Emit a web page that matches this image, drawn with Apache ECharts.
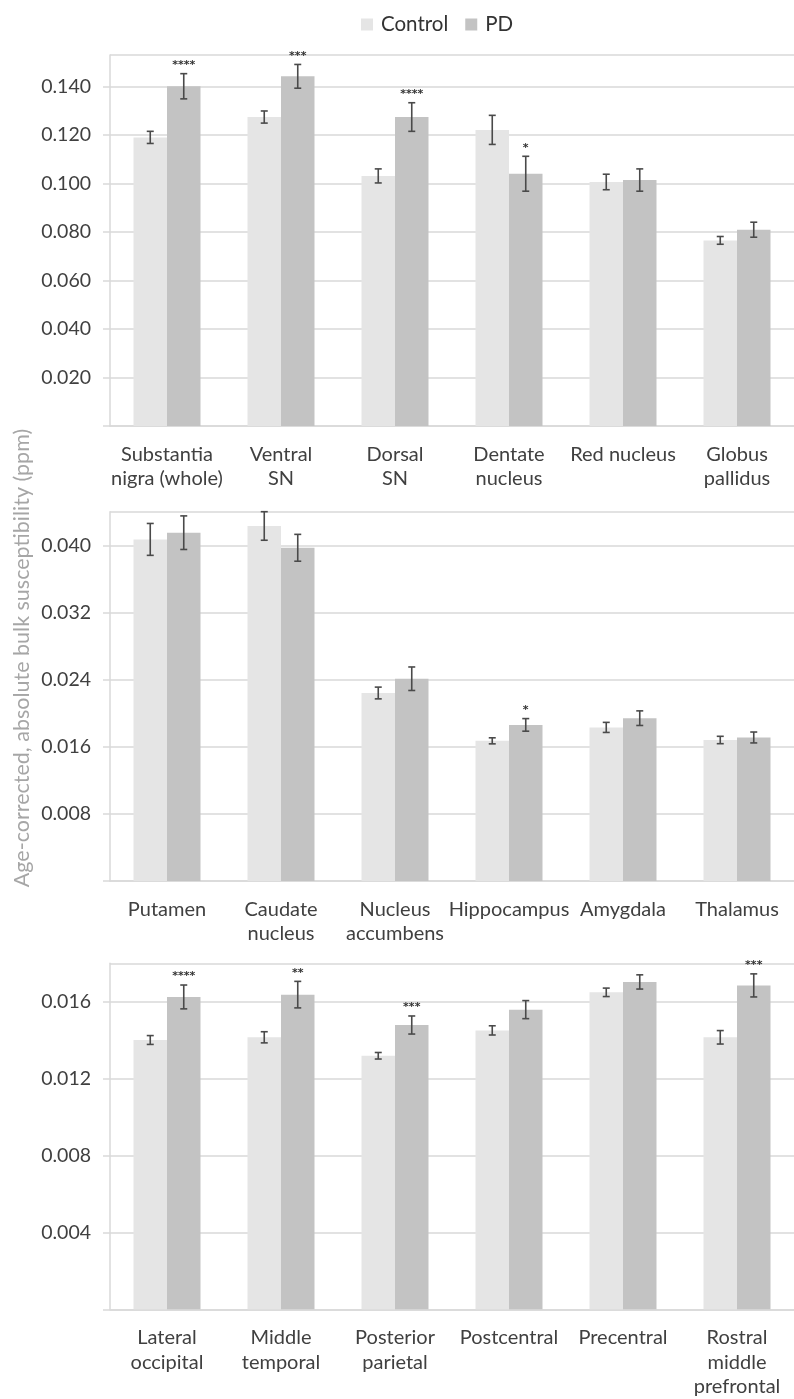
<!DOCTYPE html>
<html>
<head>
<meta charset="utf-8">
<script src="https://cdn.jsdelivr.net/npm/echarts@6/dist/echarts.min.js"></script>
<style>html,body{margin:0;padding:0;background:#fff}#c{width:794px;height:1399px}</style>
</head>
<body>
<div id="c"></div>
<script>
// ---- Panel 1 ----
const cats1 = ['Substantia\nnigra (whole)', 'Ventral\nSN', 'Dorsal\nSN', 'Dentate\nnucleus', 'Red nucleus', 'Globus\npallidus'];
const control1 = [0.1191, 0.1275, 0.1032, 0.1222, 0.1007, 0.0766];
const pd1 = [0.1402, 0.1443, 0.1275, 0.1041, 0.1015, 0.0810];
const controlErr1 = [0.0025, 0.0025, 0.0029, 0.0060, 0.0032, 0.0016];
const pdErr1 = [0.0052, 0.0049, 0.0059, 0.0072, 0.0046, 0.0031];
const sig1 = ['****', '***', '****', '*', '', ''];
const ticks1 = [0, 0.02, 0.04, 0.06, 0.08, 0.10, 0.12, 0.14];

// ---- Panel 2 ----
const cats2 = ['Putamen', 'Caudate\nnucleus', 'Nucleus\naccumbens', 'Hippocampus', 'Amygdala', 'Thalamus'];
const control2 = [0.0407, 0.0423, 0.0224, 0.0167, 0.0183, 0.0168];
const pd2 = [0.0415, 0.0397, 0.0241, 0.0186, 0.0194, 0.0171];
const controlErr2 = [0.0019, 0.0017, 0.0007, 0.00036, 0.0006, 0.00044];
const pdErr2 = [0.0020, 0.0016, 0.0014, 0.00075, 0.00087, 0.00065];
const sig2 = ['', '', '', '*', '', ''];
const ticks2 = [0, 0.008, 0.016, 0.024, 0.032, 0.040];

// ---- Panel 3 ----
const cats3 = ['Lateral\noccipital', 'Middle\ntemporal', 'Posterior\nparietal', 'Postcentral', 'Precentral', 'Rostral\nmiddle\nprefrontal'];
const control3 = [0.01401, 0.01415, 0.01319, 0.01451, 0.01649, 0.01415];
const pd3 = [0.01625, 0.01637, 0.01479, 0.01559, 0.01703, 0.01685];
const controlErr3 = [0.00023, 0.00029, 0.00017, 0.00024, 0.00022, 0.00035];
const pdErr3 = [0.00062, 0.00069, 0.00047, 0.00047, 0.00037, 0.00060];
const sig3 = ['****', '**', '***', '', '', '***'];
const ticks3 = [0, 0.004, 0.008, 0.012, 0.016];

const seriesNames = ['Control', 'PD'];
const yTitle = 'Age-corrected, absolute bulk susceptibility (ppm)';

const panels = [
  {cats: cats1, c: control1, p: pd1, ce: controlErr1, pe: pdErr1, sig: sig1, ticks: ticks1, max: 0.1531, top: 55, bottomY: 426},
  {cats: cats2, c: control2, p: pd2, ce: controlErr2, pe: pdErr2, sig: sig2, ticks: ticks2, max: 0.0440, top: 511.7, bottomY: 881},
  {cats: cats3, c: control3, p: pd3, ce: controlErr3, pe: pdErr3, sig: sig3, ticks: ticks3, max: 0.0180, top: 963.3, bottomY: 1309.3}
];

const FONT = 'Lato';
const BW = 33.5;
const CCOL = '#e5e5e5', PCOL = '#c3c3c3';
const GRID = '#d9d9d9';

const grids = [], xAxes = [], yAxes = [], series = [];
panels.forEach((pn, i) => {
  const interval = pn.ticks[1] - pn.ticks[0];
  grids.push({left: 110, right: -13, top: pn.top, height: pn.bottomY - pn.top});
  xAxes.push({
    type: 'category', gridIndex: i, data: pn.cats,
    axisLine: {show: true, lineStyle: {color: GRID, width: 1.5}},
    axisTick: {show: false},
    axisLabel: {interval: 0, margin: 16, fontFamily: FONT, fontSize: 20, lineHeight: 24.5, color: '#404040', align: 'center'}
  });
  yAxes.push({
    type: 'value', gridIndex: i, min: 0, max: pn.max, interval: interval,
    axisLine: {show: true, lineStyle: {color: GRID, width: 1.5}},
    axisTick: {show: true, length: 7, lineStyle: {color: GRID, width: 1.5}},
    splitLine: {show: true, lineStyle: {color: GRID, width: 1.5}},
    axisLabel: {
      margin: 19, fontFamily: FONT, fontSize: 19.5, color: '#404040',
      showMaxLabel: false,
      formatter: v => {
        if (v < 1e-9) return '';
        const hit = pn.ticks.some(t => Math.abs(t - v) < 1e-9);
        return hit ? v.toFixed(3) : '';
      }
    }
  });
  series.push({
    name: 'Control', type: 'bar', xAxisIndex: i, yAxisIndex: i, data: pn.c,
    barWidth: BW, barGap: '0%', itemStyle: {color: CCOL}, silent: true, z: 2
  });
  series.push({
    name: 'PD', type: 'bar', xAxisIndex: i, yAxisIndex: i, data: pn.p,
    barWidth: BW, barGap: '0%', itemStyle: {color: PCOL}, silent: true, z: 2
  });
  const errData = [];
  pn.cats.forEach((_, k) => {
    errData.push([k, pn.c[k], pn.ce[k], 0, '']);
    errData.push([k, pn.p[k], pn.pe[k], 1, pn.sig[k]]);
  });
  series.push({
    type: 'custom', xAxisIndex: i, yAxisIndex: i, data: errData, silent: true, z: 5,
    renderItem: (params, api) => {
      const k = api.value(0), v = api.value(1), e = api.value(2), which = api.value(3);
      const sig = errData[params.dataIndex][4];
      const off = which === 0 ? -BW / 2 : BW / 2;
      const top = api.coord([k, v + e]);
      const bot = api.coord([k, v - e]);
      const x = top[0] + off;
      const cap = 3.5;
      const st = {stroke: '#4a4a4a', lineWidth: 1.6};
      const children = [
        {type: 'line', shape: {x1: x, y1: top[1], x2: x, y2: bot[1]}, style: st},
        {type: 'line', shape: {x1: x - cap, y1: top[1], x2: x + cap, y2: top[1]}, style: st},
        {type: 'line', shape: {x1: x - cap, y1: bot[1], x2: x + cap, y2: bot[1]}, style: st}
      ];
      if (sig) {
        children.push({type: 'text', x: x, y: top[1] - 3,
          style: {text: sig, fontFamily: 'DejaVu Sans', fontSize: 11, fontWeight: 'bold', fill: '#333', align: 'center', verticalAlign: 'bottom'}});
      }
      return {type: 'group', children: children};
    }
  });
});

const chart = echarts.init(document.getElementById('c'), null, {renderer: 'canvas'});
chart.setOption({
  animation: false,
  backgroundColor: '#fff',
  legend: {
    data: seriesNames, top: 9, left: 356, itemWidth: 12, itemHeight: 12, itemGap: 17,
    icon: 'rect',
    textStyle: {fontFamily: FONT, fontSize: 20.5, color: '#333', padding: [0, 0, 0, 3]}
  },
  graphic: [{
    type: 'text', x: 22, y: 658, rotation: Math.PI / 2,
    style: {text: yTitle, fontFamily: FONT, fontSize: 21.5, fill: '#a6a6a6', align: 'center', verticalAlign: 'middle'}
  }],
  grid: grids, xAxis: xAxes, yAxis: yAxes, series: series
});
</script>
</body>
</html>
